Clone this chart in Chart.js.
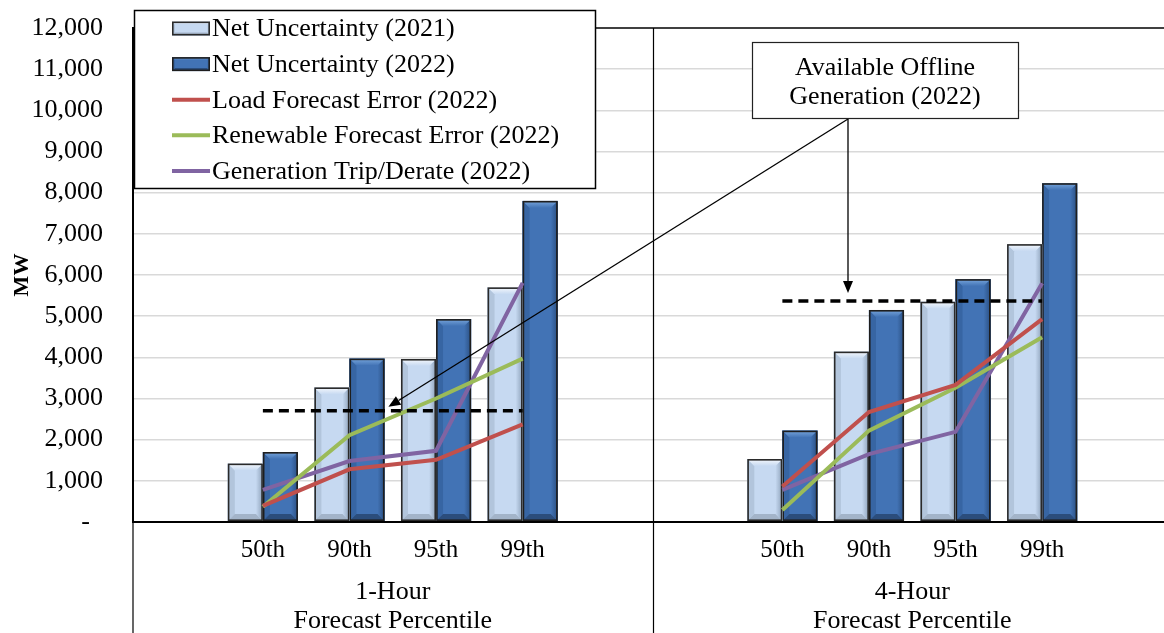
<!DOCTYPE html>
<html><head><meta charset="utf-8">
<script src="https://cdn.jsdelivr.net/npm/chart.js@4.4.1/dist/chart.umd.min.js"></script>
<style>
html,body{margin:0;padding:0;background:#fff;overflow:hidden;width:1164px;height:633px}
#wrap{position:absolute;left:0;top:0;width:1172px;height:633px}
</style>
</head><body><div id="wrap"><canvas id="c"></canvas></div>
<script>
// ---- data ----
const categories = ['', '50th', '90th', '95th', '99th', '', '', '50th', '90th', '95th', '99th', ''];
const groupLabels = ['1-Hour', '4-Hour'];
const groupSubLabel = 'Forecast Percentile';
const net2021 = [null, 1420, 3270, 3960, 5700, null, null, 1530, 4140, 5350, 6750, null];
const net2022 = [null, 1700, 3970, 4930, 7800, null, null, 2220, 5150, 5900, 8230, null];
const loadErr = [null, 390, 1280, 1510, 2370, null, null, 860, 2670, 3330, 4930, null];
const renewErr = [null, 370, 2110, 3000, 3970, null, null, 290, 2220, 3260, 4490, null];
const genTrip = [null, 780, 1480, 1730, 5810, null, null, 780, 1650, 2190, 5800, null];
const offlineGen = [null, 2700, 2700, 2700, 2700, null, null, 5370, 5370, 5370, 5370, null];
const seriesNames = ['Net Uncertainty (2021)', 'Net Uncertainty (2022)', 'Load Forecast Error (2022)',
  'Renewable Forecast Error (2022)', 'Generation Trip/Derate (2022)', 'Available Offline Generation (2022)'];
const annotationLines = ['Available Offline', 'Generation (2022)'];
const yMin = 0, yMax = 12000, yStep = 1000;

const FONT = '"Liberation Serif", "Times New Roman", serif';

const bevel2021 = {body:'#c6d9f1', top:'#f6f9fd', left:'#b2c5dc', right:'#8ea2ba', bottom:'#a3b4c9', border:'#2a2a2a'};
const bevel2022 = {body:'#4273b5', top:'#78a6dc', left:'#3765a3', right:'#2a4f82', bottom:'#2b4d7c', border:'#1e1e1e'};

function drawBevelBar(ctx, x0, y0, x1, y1, c, d) {
  const w = x1 - x0, h = y1 - y0;
  d = Math.min(d, w / 2, h / 2);
  ctx.save();
  ctx.fillStyle = c.body;
  ctx.fillRect(x0, y0, w, h);
  ctx.fillStyle = c.left;
  ctx.beginPath(); ctx.moveTo(x0, y0); ctx.lineTo(x0 + d, y0 + d); ctx.lineTo(x0 + d, y1 - d); ctx.lineTo(x0, y1); ctx.closePath(); ctx.fill();
  let gr = ctx.createLinearGradient(x1 - d, 0, x1, 0);
  gr.addColorStop(0, c.body); gr.addColorStop(1, c.right);
  ctx.fillStyle = gr;
  ctx.beginPath(); ctx.moveTo(x1, y0); ctx.lineTo(x1 - d, y0 + d); ctx.lineTo(x1 - d, y1 - d); ctx.lineTo(x1, y1); ctx.closePath(); ctx.fill();
  ctx.fillStyle = c.bottom;
  ctx.beginPath(); ctx.moveTo(x0, y1); ctx.lineTo(x0 + d, y1 - d); ctx.lineTo(x1 - d, y1 - d); ctx.lineTo(x1, y1); ctx.closePath(); ctx.fill();
  let gt = ctx.createLinearGradient(0, y0, 0, y0 + d);
  gt.addColorStop(0, c.top); gt.addColorStop(1, c.body);
  ctx.fillStyle = gt;
  ctx.beginPath(); ctx.moveTo(x0, y0); ctx.lineTo(x1, y0); ctx.lineTo(x1 - d, y0 + d); ctx.lineTo(x0 + d, y0 + d); ctx.closePath(); ctx.fill();
  ctx.strokeStyle = c.border; ctx.lineWidth = 1.6;
  ctx.strokeRect(x0 + 0.8, y0 + 0.8, w - 1.6, h - 1.6);
  ctx.restore();
}

const bevelPlugin = {
  id: 'bevel',
  afterDatasetDraw(chart, args) {
    const ds = chart.data.datasets[args.index];
    if (!ds.bevel) return;
    const ctx = chart.ctx;
    args.meta.data.forEach((el, i) => {
      if (ds.data[i] === null || ds.data[i] === undefined) return;
      const p = el.getProps(['x', 'y', 'base', 'width'], true);
      if (!isFinite(p.y) || !isFinite(p.base)) return;
      const x0 = p.x - p.width / 2, x1 = p.x + p.width / 2;
      drawBevelBar(ctx, x0, Math.min(p.y, p.base), x1, Math.max(p.y, p.base), ds.bevel, 7);
    });
  }
};

const framePlugin = {
  id: 'frame',
  beforeDatasetsDraw(chart) {
    const ctx = chart.ctx, xs = chart.scales.x, ca = chart.chartArea;
    const H = chart.height;
    ctx.save();
    ctx.strokeStyle = '#000'; ctx.lineWidth = 1.2;
    const div = (xs.getPixelForValue(5) + xs.getPixelForValue(6)) / 2;
    ctx.beginPath(); ctx.moveTo(Math.round(div) + 0.5, ca.top); ctx.lineTo(Math.round(div) + 0.5, H); ctx.stroke();
    ctx.beginPath(); ctx.moveTo(ca.left, ca.bottom); ctx.lineTo(ca.left, H); ctx.stroke();
    ctx.restore();
  },
  afterDraw(chart) {
    const ctx = chart.ctx, xs = chart.scales.x, ca = chart.chartArea;
    ctx.save();
    ctx.fillStyle = '#000'; ctx.textAlign = 'center'; ctx.textBaseline = 'middle';
    ctx.font = '26px ' + FONT;
    groupLabels.forEach((g, i) => {
      const cx = (xs.getPixelForValue(i * 6) + xs.getPixelForValue(i * 6 + 5)) / 2;
      ctx.fillText(g, cx, ca.bottom + 70);
      ctx.fillText(groupSubLabel, cx, ca.bottom + 99);
    });
    ctx.restore();
  }
};

function arrow(ctx, x0, y0, x1, y1) {
  const ang = Math.atan2(y1 - y0, x1 - x0), L = 12, W = 5;
  const bx = x1 - L * Math.cos(ang), by = y1 - L * Math.sin(ang);
  ctx.beginPath(); ctx.moveTo(x0, y0); ctx.lineTo(bx, by); ctx.stroke();
  ctx.beginPath();
  ctx.moveTo(x1, y1);
  ctx.lineTo(bx + W * Math.sin(ang), by - W * Math.cos(ang));
  ctx.lineTo(bx - W * Math.sin(ang), by + W * Math.cos(ang));
  ctx.closePath(); ctx.fill();
}

const annotPlugin = {
  id: 'annot',
  afterDatasetsDraw(chart) {
    const ctx = chart.ctx, xs = chart.scales.x, ys = chart.scales.y;
    const bx0 = 752, by0 = 42, bx1 = 1018, by1 = 118;
    const sx = 848, sy = by1 + 1;
    ctx.save();
    ctx.strokeStyle = '#000'; ctx.fillStyle = '#000'; ctx.lineWidth = 1.3;
    arrow(ctx, sx, sy, xs.getPixelForValue(2.45), ys.getPixelForValue(offlineGen[1]) - 4);
    arrow(ctx, sx, sy, sx, ys.getPixelForValue(offlineGen[7]) - 8);
    ctx.fillStyle = '#fff';
    ctx.fillRect(bx0, by0, bx1 - bx0, by1 - by0);
    ctx.strokeStyle = '#222'; ctx.lineWidth = 1.2;
    ctx.strokeRect(bx0 + 0.5, by0 + 0.5, bx1 - bx0, by1 - by0);
    ctx.fillStyle = '#000'; ctx.textAlign = 'center'; ctx.textBaseline = 'middle';
    ctx.font = '26px ' + FONT;
    ctx.fillText(annotationLines[0], (bx0 + bx1) / 2, 68);
    ctx.fillText(annotationLines[1], (bx0 + bx1) / 2, 97);
    ctx.restore();
  }
};

const legendPlugin = {
  id: 'customLegend',
  afterDraw(chart) {
    const ctx = chart.ctx;
    ctx.save();
    ctx.fillStyle = '#fff';
    ctx.fillRect(134, 10, 461, 178);
    ctx.strokeStyle = '#000'; ctx.lineWidth = 1.5;
    ctx.strokeRect(134.5, 10.5, 461, 178);
    ctx.font = '26px ' + FONT; ctx.textBaseline = 'middle'; ctx.textAlign = 'left';
    let row = 0;
    chart.data.datasets.forEach(ds => {
      if (ds.hideInLegend) return;
      const y = 28.5 + row * 35.6;
      if (ds.bevel) {
        drawBevelBar(ctx, 172, y - 7, 210, y + 7, ds.bevel, 3);
      } else {
        ctx.strokeStyle = ds.borderColor; ctx.lineWidth = 4;
        ctx.beginPath(); ctx.moveTo(172, y); ctx.lineTo(210, y); ctx.stroke();
      }
      ctx.fillStyle = '#000';
      ctx.fillText(ds.label, 212, y + 1);
      row++;
    });
    ctx.restore();
  }
};

const lineDs = (label, data, color) => ({
  type: 'line', label, data, borderColor: color, backgroundColor: color, borderWidth: 4,
  pointRadius: 0, tension: 0, spanGaps: false, order: 2
});

new Chart(document.getElementById('c'), {
  type: 'bar',
  data: {
    labels: categories,
    datasets: [
      {label: seriesNames[0], data: net2021, backgroundColor: bevel2021.body, borderWidth: 0, bevel: bevel2021,
        categoryPercentage: 0.81, barPercentage: 1.0, order: 10},
      {label: seriesNames[1], data: net2022, backgroundColor: bevel2022.body, borderWidth: 0, bevel: bevel2022,
        categoryPercentage: 0.81, barPercentage: 1.0, order: 10},
      lineDs(seriesNames[2], loadErr, '#c0504d'),
      lineDs(seriesNames[3], renewErr, '#9bbb59'),
      lineDs(seriesNames[4], genTrip, '#8064a2'),
      {type: 'line', label: seriesNames[5], data: offlineGen, borderColor: '#000', borderWidth: 3.5,
        borderDash: [10, 6], pointRadius: 0, spanGaps: false, order: 1, hideInLegend: true}
    ]
  },
  options: {
    responsive: true, maintainAspectRatio: false, animation: false,
    layout: {padding: {top: 28, left: 0, right: 0, bottom: 0}},
    plugins: {legend: {display: false}, tooltip: {enabled: false}},
    scales: {
      x: {
        offset: true,
        grid: {display: false, drawTicks: false},
        border: {display: true, color: '#000', width: 2},
        ticks: {autoSkip: false, maxRotation: 0, minRotation: 0, padding: 13, color: '#000',
          font: {family: FONT, size: 25}},
        afterFit(s) { s.height = 111; s.paddingLeft = 0; s.paddingRight = 0; }
      },
      y: {
        min: yMin, max: yMax,
        ticks: {stepSize: yStep, padding: 30, color: '#000', font: {family: FONT, size: 26},
          callback: v => v === 0 ? '-  ' : v.toLocaleString('en-US')},
        grid: {drawTicks: false,
          color: c => c.tick.value === yMax ? '#404040' : (c.tick.value === 0 ? '#000' : '#d9d9d9'),
          lineWidth: c => c.tick.value === yMax ? 2 : (c.tick.value === 0 ? 2 : 1.5)},
        border: {display: true, color: '#000', width: 2},
        title: {display: true, text: 'MW', color: '#000', font: {family: FONT, size: 22, weight: 'bold'},
          padding: {top: 9, bottom: 0}},
        afterFit(s) { s.width = 133; s.paddingTop = 0; s.paddingBottom = 0; }
      }
    }
  },
  plugins: [framePlugin, bevelPlugin, annotPlugin, legendPlugin]
});
</script>
</body></html>
